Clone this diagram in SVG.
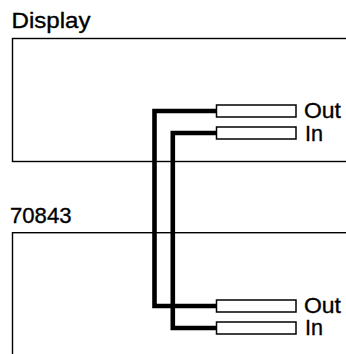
<svg xmlns="http://www.w3.org/2000/svg" width="346" height="354" viewBox="0 0 346 354">
<style>
.box{fill:none;stroke:#000;stroke-width:1.4}
.port{fill:#fff;stroke:#000;stroke-width:1.5}
.wire{fill:none;stroke:#000;stroke-width:4.6;stroke-linejoin:miter;stroke-linecap:butt}
.lbl{font-family:"Liberation Sans Narrow","Liberation Sans",Arial,sans-serif;fill:#000;stroke:#000;stroke-width:0.35}
.title{font-size:21.5px}
.pl{font-size:22.5px}
</style>
<rect width="346" height="354" fill="#fff"/>
<g id="display">
<rect class="box" x="12.5" y="38.5" width="345" height="123"/>
<text class="lbl title" x="11.5" y="28.3" textLength="79" lengthAdjust="spacingAndGlyphs">Display</text>
<g id="display-out"><rect class="port" x="216.5" y="105" width="79.5" height="12"/><text class="lbl pl" x="304" y="118" textLength="37" lengthAdjust="spacingAndGlyphs">Out</text></g>
<g id="display-in"><rect class="port" x="216.5" y="127" width="79.5" height="12"/><text class="lbl pl" x="305" y="140.5" textLength="18" lengthAdjust="spacingAndGlyphs">In</text></g>
</g>
<g id="unit70843">
<rect class="box" x="12.5" y="232.7" width="345" height="140"/>
<text class="lbl title" x="10" y="223.3" textLength="61.5" lengthAdjust="spacingAndGlyphs">70843</text>
<g id="unit-out"><rect class="port" x="216.5" y="300" width="79.5" height="12"/><text class="lbl pl" x="304" y="312.7" textLength="37" lengthAdjust="spacingAndGlyphs">Out</text></g>
<g id="unit-in"><rect class="port" x="216.5" y="322" width="79.5" height="12"/><text class="lbl pl" x="305" y="335" textLength="18" lengthAdjust="spacingAndGlyphs">In</text></g>
</g>
<g id="connectors">
<polyline class="wire" points="216.5,111 154.5,111 154.5,306 216.5,306"/>
<polyline class="wire" points="216.5,133 172.8,133 172.8,328 216.5,328"/>
</g>
</svg>
